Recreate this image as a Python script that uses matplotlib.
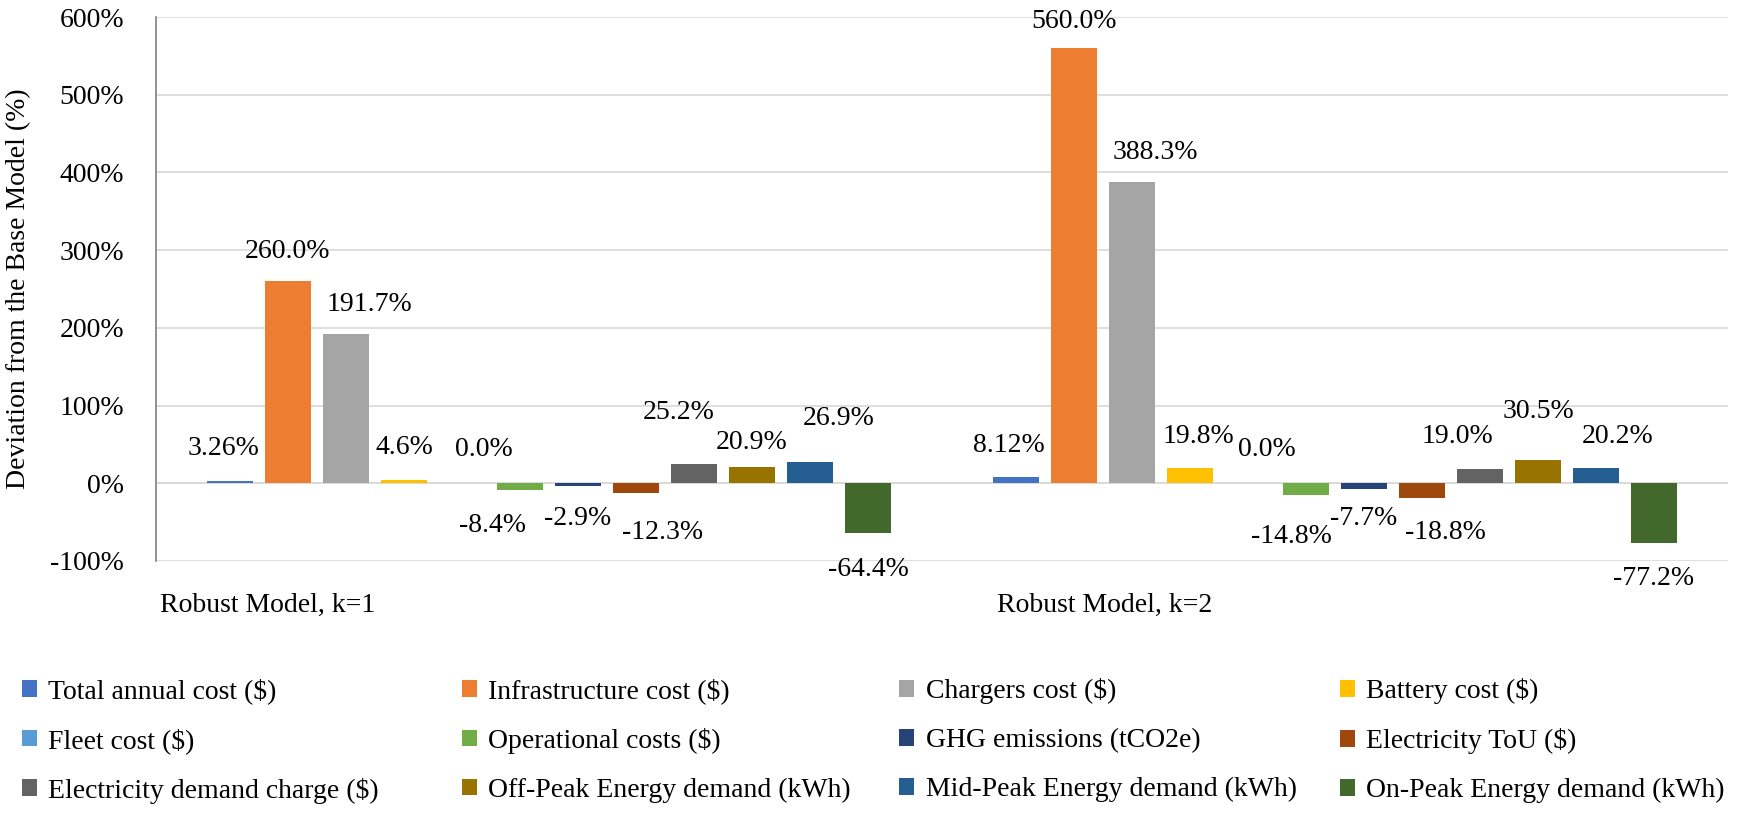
"""Grouped bar chart: deviation of robust models from the base model."""

import matplotlib
matplotlib.use('Agg')
import matplotlib.pyplot as plt
from matplotlib.patches import Patch
from matplotlib.ticker import FuncFormatter
import numpy as np

groups = ['Robust Model, k=1', 'Robust Model, k=2']
series = [
    'Total annual cost ($)', 'Infrastructure cost ($)', 'Chargers cost ($)',
    'Battery cost ($)', 'Fleet cost ($)', 'Operational costs ($)',
    'GHG emissions (tCO2e)', 'Electricity ToU ($)',
    'Electricity demand charge ($)', 'Off-Peak Energy demand (kWh)',
    'Mid-Peak Energy demand (kWh)', 'On-Peak Energy demand (kWh)',
]
k1_values = [3.26, 260.0, 191.7, 4.6, 0.0, -8.4, -2.9, -12.3, 25.2, 20.9, 26.9, -64.4]
k2_values = [8.12, 560.0, 388.3, 19.8, 0.0, -14.8, -7.7, -18.8, 19.0, 30.5, 20.2, -77.2]
k1_labels = ['3.26%', '260.0%', '191.7%', '4.6%', '0.0%', '-8.4%', '-2.9%',
             '-12.3%', '25.2%', '20.9%', '26.9%', '-64.4%']
k2_labels = ['8.12%', '560.0%', '388.3%', '19.8%', '0.0%', '-14.8%', '-7.7%',
             '-18.8%', '19.0%', '30.5%', '20.2%', '-77.2%']

# label nudges, hand placed like the original:
# vertical in % units from the bar end, horizontal in bar steps
k1_dy = [41, 38, 38, 41, 43, -46, -42, -51, 66, 31, 57, -46]
k2_dy = [41, 34, 37, 41, 43, -54, -37, -45, 41, 62, 40, -45]
k1_dx = [-0.12, 0, 0.4, 0, 0.38, -0.47, 0, 0.45, -0.27, 0, 0.5, 0]
k2_dx = [-0.13, 0, 0.4, 0.14, 0.32, -0.25, 0, 0.4, -0.38, 0, 0.38, 0]

colors = ['#4472C4', '#ED7D31', '#A5A5A5', '#FFC000', '#5B9BD5', '#70AD47',
          '#264478', '#9E480E', '#636363', '#997300', '#255E91', '#43682B']

FONT = 'Liberation Serif'
FS = 20

plt.rcParams['font.family'] = [FONT, 'DejaVu Serif']

fig = plt.figure(figsize=(17.5, 8.13), dpi=100)
ax = fig.add_axes([156 / 1750, 1 - 561 / 813, (1728 - 156) / 1750, (561 - 17) / 813])

step = 0.0738
width = 0.0585
values = [k1_values, k2_values]
labels = [k1_labels, k2_labels]
dys = [k1_dy, k2_dy]
dxs = [k1_dx, k2_dx]

for g in range(len(groups)):
    for i in range(len(series)):
        x = g + 0.5 + (i - 5.5) * step
        ax.bar(x, values[g][i], width=width, color=colors[i], zorder=3)
        ax.text(x + dxs[g][i] * step, values[g][i] + dys[g][i], labels[g][i],
                ha='center', va='center', fontsize=FS)

ax.set_xlim(0, 2)
ax.set_ylim(-100, 600)
ax.set_yticks(np.arange(-100, 601, 100))
ax.yaxis.set_major_formatter(FuncFormatter(lambda v, _: '%d%%' % v))
ax.grid(axis='y', color='#D9D9D9', linewidth=1.2, zorder=0)
ax.axhline(0, color='#D9D9D9', linewidth=1.2, zorder=1)

ax.set_xticks([0.005, 1.07])
ax.set_xticklabels(groups, ha='left')
ax.tick_params(axis='x', length=0, pad=23, labelsize=FS)
ax.tick_params(axis='y', length=0, pad=23, labelsize=FS)

for side in ['top', 'right', 'bottom']:
    ax.spines[side].set_visible(False)
ax.spines['left'].set_color('#7F7F7F')
ax.spines['left'].set_linewidth(1.2)

ax.set_ylabel('Deviation from the Base Model (%)', fontsize=FS)
ax.yaxis.set_label_coords((31 - 156) / 1572, 0.5)

# Excel style legend: four equal columns filled row by row
col_x = [25, 465, 902, 1343]
for c in range(4):
    handles = [Patch(facecolor=colors[c + 4 * r], label=series[c + 4 * r])
               for r in range(3)]
    fig.legend(handles=handles, loc='upper left',
               bbox_to_anchor=(col_x[c] / 1750 - 0.008, 1 - 667 / 813),
               frameon=False, fontsize=FS, handlelength=0.55, handleheight=0.55,
               handletextpad=0.4, labelspacing=0.86, borderaxespad=0)

fig.savefig('out.png', dpi=100)
